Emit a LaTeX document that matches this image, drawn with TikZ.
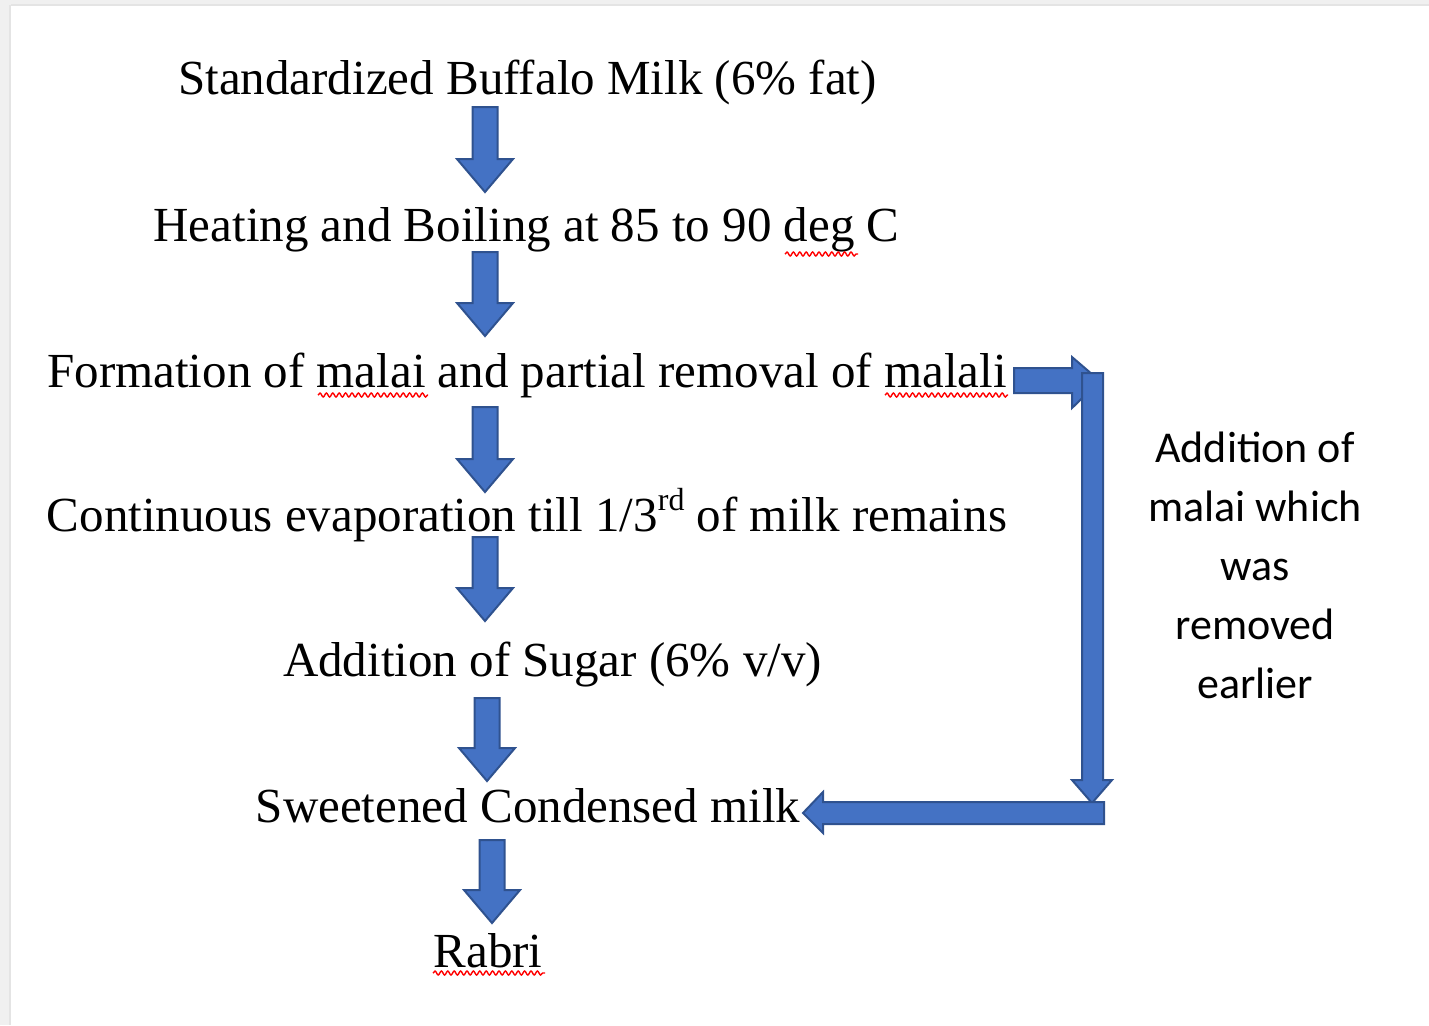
\documentclass[tikz,border=0pt]{standalone}
\usepackage{fontspec}
\setmainfont{Liberation Serif}
\newfontfamily\calib{Carlito}
\usetikzlibrary{decorations.pathmorphing}
\definecolor{arrowfill}{HTML}{4472C4}
\definecolor{arrowline}{HTML}{2F528F}
\definecolor{edgegray}{HTML}{F0F0F0}
\definecolor{edgeline}{HTML}{E4E4E4}
\tikzset{
  stepline/.style={anchor=base, inner sep=0pt, font=\fontsize{24.5}{29}\selectfont},
  sidenote/.style={align=center, inner sep=0pt, font=\calib\fontsize{22}{29.5}\selectfont},
  blockarrow/.style={fill=arrowfill, draw=arrowline, line width=1pt, line join=miter},
  squiggle/.style={draw=red, line width=0.7pt, decorate, decoration={snake, segment length=3.2pt, amplitude=1pt}}
}
% down block arrow: centre x, top y, tip y
\newcommand\blockdown[3]{%
  \draw[blockarrow] (#1-12.5,#2) -- (#1+12.5,#2) -- (#1+12.5,#3-33) -- (#1+28,#3-33)
    -- (#1,#3) -- (#1-28,#3-33) -- (#1-12.5,#3-33) -- cycle;}
\newcommand\supsmall[1]{\raisebox{0.42em}{\fontsize{16}{16}\selectfont #1}}
\begin{document}
\begin{tikzpicture}[x=0.5pt, y=-0.5pt]
\useasboundingbox (0,0) rectangle (1429,1025);
% screenshot edge
\fill[edgegray] (0,0) rectangle (1429,5);
\fill[edgegray] (0,0) rectangle (11,1025);
\draw[edgeline, line width=1pt] (11,5) -- (1429,5);
\draw[edgeline, line width=1pt] (10,5) -- (10,1025);

% steps
\node[stepline] (s1) at (527.5,94) {Standardized Buffalo Milk (6\% fat)};
\node[stepline] (s2) at (526.5,241) {Heating and Boiling at 85 to 90 deg C};
\node[stepline] (s3) at (527,387) {Formation of malai and partial removal of malali};
\node[stepline] (s4) at (527,531) {Continuous evaporation till 1/3\supsmall{rd} of milk remains};
\node[stepline] (s5) at (552.5,676) {Addition of Sugar (6\% v/v)};
\node[stepline] (s6) at (528,822) {Sweetened Condensed milk};
\node[stepline] (s7) at (488,967) {Rabri};

% side note
\node[sidenote] (note) at (1255,565) {Addition of\\malai which\\was\\removed\\earlier};

% spell-check marks
\draw[squiggle] (785,254) -- (858,254);
\draw[squiggle] (318,395) -- (428,395);
\draw[squiggle] (885,395) -- (1008,395);
\draw[squiggle] (433,973) -- (545,973);

% down arrows
\blockdown{485}{107}{192}
\blockdown{485}{252}{336}
\blockdown{485}{407}{492}
\blockdown{485}{537}{621}
\blockdown{487}{698}{781}
\blockdown{492}{840}{923}

% return loop
\draw[blockarrow] (1014,368) -- (1072,368) -- (1072,357) -- (1100,381) -- (1072,408)
  -- (1072,393) -- (1014,393) -- cycle;
\draw[blockarrow] (1082,373) -- (1103,373) -- (1103,780) -- (1112,780) -- (1092,803)
  -- (1072,780) -- (1082,780) -- cycle;
\draw[blockarrow] (1104,802) -- (1104,824) -- (823,824) -- (823,833) -- (803,813)
  -- (823,792) -- (823,802) -- cycle;
\end{tikzpicture}
\end{document}
